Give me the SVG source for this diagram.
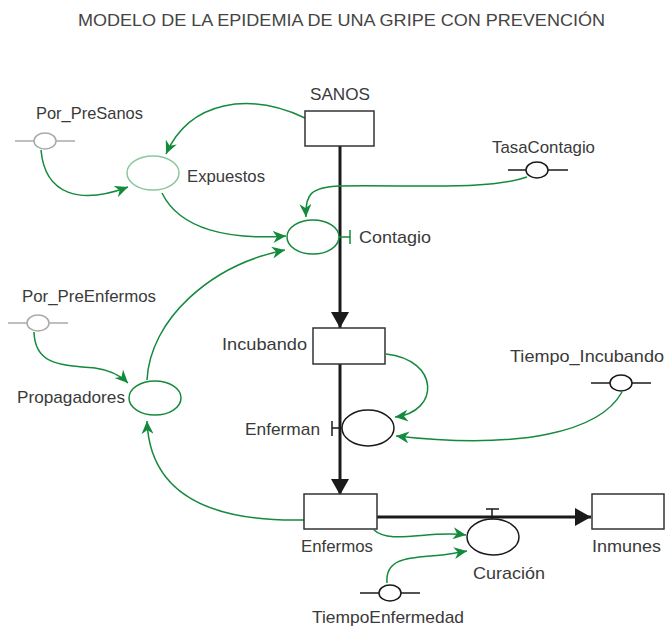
<svg xmlns="http://www.w3.org/2000/svg" width="665" height="629" viewBox="0 0 665 629">
<style>
text{font-family:"Liberation Sans",Arial,sans-serif;font-size:17px;fill:#3a3a3a}
.title{font-size:17px;fill:#444}
.box{fill:#fff;stroke:#333;stroke-width:1.5}
.flow{stroke:#1a1a1a;stroke-width:3;fill:none}
.link{stroke:#138a3c;stroke-width:1.5;fill:none;marker-end:url(#ga)}
.aux-g{fill:#fff;stroke:#138a3c;stroke-width:1.5}
.aux-lg{fill:#fff;stroke:#8cc79e;stroke-width:1.5}
.aux-k{fill:#fff;stroke:#1a1a1a;stroke-width:1.5}
.cst-k{fill:#fff;stroke:#1a1a1a;stroke-width:1.5}
.cst-gray{fill:#fff;stroke:#aaa;stroke-width:1.5}
.tick-k{stroke:#1a1a1a;stroke-width:1.5;fill:none}
.tick-g{stroke:#138a3c;stroke-width:1.5;fill:none}
</style>
<defs>
<marker id="ga" markerUnits="userSpaceOnUse" markerWidth="14" markerHeight="12" refX="13" refY="6" orient="auto">
<path d="M0,0 L13,6 L0,12 L4,6 z" fill="#138a3c"/>
</marker>
<marker id="ka" markerUnits="userSpaceOnUse" markerWidth="16" markerHeight="18" refX="16" refY="9" orient="auto">
<path d="M0,0 L16,9 L0,18 z" fill="#1a1a1a"/>
</marker>
</defs>
<text class="title" x="78" y="26" textLength="527" lengthAdjust="spacingAndGlyphs">MODELO DE LA EPIDEMIA DE UNA GRIPE CON PREVENCIÓN</text>
<g id="connectors">
<path class="flow" d="M340,146 V328" marker-end="url(#ka)"/>
<path class="flow" d="M340,364 V495" marker-end="url(#ka)"/>
<path class="flow" d="M377,517 H591" marker-end="url(#ka)"/>
<path class="link" d="M305,118 C250,92 190,100 166,154"/>
<path class="link" d="M41,150 C45,195 80,205 128,187"/>
<path class="link" d="M162,193 C180,230 230,240 286,236"/>
<path class="link" d="M527,177 C490,190 420,185 340,186 C310,187 305,195 306,217"/>
<path class="link" d="M147,380 C150,320 210,265 285,250"/>
<path class="link" d="M34,332 C35,365 60,365 95,368 C110,370 120,375 128,383"/>
<path class="link" d="M305,520 C220,522 150,500 147,421"/>
<path class="link" d="M386,354 C440,360 440,412 395,417"/>
<path class="link" d="M622,392 C600,432 520,450 396,436"/>
<path class="link" d="M374,530 C390,545 430,530 466,535"/>
<path class="link" d="M387,583 C385,560 405,558 430,556 C445,555 455,553 467,551"/>
</g>
<g id="SANOS"><rect class="box" x="305" y="111" width="69" height="35"/><text x="310" y="100" textLength="60" lengthAdjust="spacingAndGlyphs">SANOS</text></g>
<g id="Incubando"><rect class="box" x="313" y="328" width="72" height="36"/><text x="222" y="350" textLength="85" lengthAdjust="spacingAndGlyphs">Incubando</text></g>
<g id="Enfermos"><rect class="box" x="304" y="494" width="73" height="35"/><text x="301" y="552" textLength="72" lengthAdjust="spacingAndGlyphs">Enfermos</text></g>
<g id="Inmunes"><rect class="box" x="592" y="494" width="72" height="35"/><text x="592" y="552" textLength="69" lengthAdjust="spacingAndGlyphs">Inmunes</text></g>
<g id="Contagio"><path class="tick-g" d="M339,237 H350 M350,230 V244"/><ellipse class="aux-g" cx="313" cy="237" rx="26" ry="17"/><text x="359" y="243" textLength="72" lengthAdjust="spacingAndGlyphs">Contagio</text></g>
<g id="Expuestos"><ellipse class="aux-lg" cx="153" cy="173" rx="26" ry="17"/><text x="187" y="182" textLength="78" lengthAdjust="spacingAndGlyphs">Expuestos</text></g>
<g id="Propagadores"><ellipse class="aux-g" cx="155" cy="398" rx="26" ry="17"/><text x="17" y="403" textLength="108" lengthAdjust="spacingAndGlyphs">Propagadores</text></g>
<g id="Enferman"><path class="tick-k" d="M342,428 H332 M332,421 V436"/><ellipse class="aux-k" cx="368" cy="428" rx="26" ry="18"/><text x="245" y="435" textLength="75" lengthAdjust="spacingAndGlyphs">Enferman</text></g>
<g id="Curacion"><path class="tick-k" d="M492,519 V509 M486,509 H499"/><ellipse class="aux-k" cx="493" cy="537" rx="26" ry="18"/><text x="473" y="579" textLength="72" lengthAdjust="spacingAndGlyphs">Curación</text></g>
<g id="Por_PreSanos"><line class="cst-gray" x1="15" y1="141" x2="75" y2="141"/><ellipse class="cst-gray" cx="45" cy="141" rx="11" ry="8"/><text x="36" y="119" textLength="107" lengthAdjust="spacingAndGlyphs">Por_PreSanos</text></g>
<g id="Por_PreEnfermos"><line class="cst-gray" x1="8" y1="323" x2="68" y2="323"/><ellipse class="cst-gray" cx="38" cy="323" rx="11" ry="8"/><text x="22" y="302" textLength="134" lengthAdjust="spacingAndGlyphs">Por_PreEnfermos</text></g>
<g id="TasaContagio"><line class="cst-k" x1="508" y1="170" x2="568" y2="170"/><ellipse class="cst-k" cx="537" cy="170" rx="11" ry="8"/><text x="492" y="153" textLength="103" lengthAdjust="spacingAndGlyphs">TasaContagio</text></g>
<g id="Tiempo_Incubando"><line class="cst-k" x1="591" y1="383" x2="651" y2="383"/><ellipse class="cst-k" cx="621" cy="383" rx="11" ry="8"/><text x="510" y="362" textLength="154" lengthAdjust="spacingAndGlyphs">Tiempo_Incubando</text></g>
<g id="TiempoEnfermedad"><line class="cst-k" x1="360" y1="593" x2="420" y2="593"/><ellipse class="cst-k" cx="390" cy="593" rx="11" ry="8"/><text x="312" y="623" textLength="152" lengthAdjust="spacingAndGlyphs">TiempoEnfermedad</text></g>
</svg>
